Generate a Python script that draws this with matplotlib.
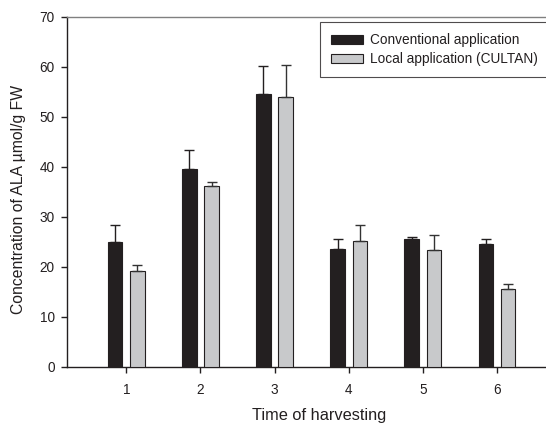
import matplotlib
matplotlib.use("Agg")
import matplotlib.pyplot as plt
import numpy as np

plt.rcParams['font.family'] = ['Liberation Sans', 'DejaVu Sans']

harvest = [1, 2, 3, 4, 5, 6]
conv_mean = [24.9, 39.5, 54.6, 23.5, 25.6, 24.6]
conv_err = [3.5, 3.8, 5.6, 2.0, 0.4, 1.0]
local_mean = [19.2, 36.1, 54.0, 25.2, 23.3, 15.6]
local_err = [1.2, 0.9, 6.3, 3.2, 3.1, 0.9]
series_labels = ["Conventional application", "Local application (CULTAN)"]

W, H = 546, 424
fig = plt.figure(figsize=(W / 100, H / 100), dpi=100)
ax = fig.add_axes([67 / W, (H - 367) / H, (571 - 67) / W, (367 - 16.5) / H])

x = np.array(harvest, dtype=float)
bw = 0.195
off = 0.15
ink = '#231f20'
ax.bar(x - off, conv_mean, bw, color=ink, edgecolor=ink, linewidth=0.8,
       yerr=[np.zeros(len(conv_err)), conv_err], capsize=3.8,
       error_kw=dict(ecolor=ink, elinewidth=1.0, capthick=1.0),
       label=series_labels[0], zorder=3)
ax.bar(x + off, local_mean, bw, color='#c8c9cb', edgecolor=ink, linewidth=0.8,
       yerr=[np.zeros(len(local_err)), local_err], capsize=3.8,
       error_kw=dict(ecolor='#333333', elinewidth=1.0, capthick=1.0),
       label=series_labels[1], zorder=3)

ax.set_xlim(0.2, 7.0)
ax.set_ylim(0, 70)
ax.set_xticks(harvest)
ax.set_yticks(np.arange(0, 71, 10))
ax.tick_params(direction='out', length=4.5, width=1, colors=ink, labelsize=9.8)
ax.tick_params(axis='x', pad=7)
ax.tick_params(axis='y', pad=4.3)
ax.spines['right'].set_visible(False)
ax.spines['top'].set_color('#808080')
ax.spines['left'].set_color(ink)
ax.spines['bottom'].set_color(ink)
for s in ax.spines.values():
    s.set_linewidth(1.0)

ax.set_xlabel("Time of harvesting", fontsize=11.8, color=ink, labelpad=8)
ax.set_ylabel("Concentration of ALA µmol/g FW", fontsize=11.3, color=ink)
ax.yaxis.set_label_coords(-0.082, 0.478)

leg = fig.legend(loc='upper left', bbox_to_anchor=(320 / W, 1 - 22.5 / H),
                 fontsize=9.8, frameon=True, fancybox=False, edgecolor=ink,
                 handlelength=2.35, handleheight=0.66, handletextpad=0.5,
                 labelspacing=0.35, borderpad=0.8, borderaxespad=0)
leg.get_frame().set_linewidth(0.8)
for t in leg.get_texts():
    t.set_color(ink)

fig.savefig("out.png", dpi=100)
